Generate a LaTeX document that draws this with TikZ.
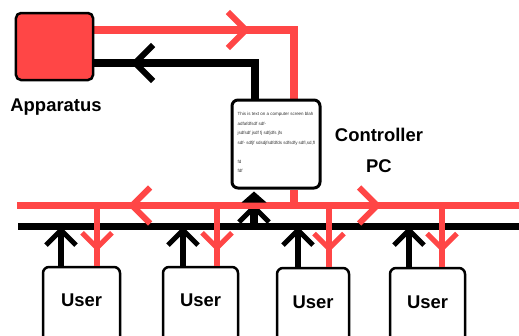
\documentclass[tikz,border=0pt]{standalone}
\usepackage{fontspec}
\setmainfont{Liberation Sans}
\usetikzlibrary{positioning,arrows.meta,decorations.markings}

\definecolor{sigred}{RGB}{255,70,70}

\tikzset{
  barb/.tip={Straight Barb[length=15bp,width=30bp,line width=5bp]},
  bigbarb/.tip={Straight Barb[length=18bp,width=36bp,line width=6bp]},
  chevron at/.style={postaction={decorate},
    decoration={markings,mark=at position #1 with {\arrow{barb}}}},
  big chevron at/.style={postaction={decorate},
    decoration={markings,mark=at position #1 with {\arrow{bigbarb}}}},
  redline/.style={draw=sigred,line width=7.5bp},
  blackline/.style={draw=black,line width=7.5bp},
  userred/.style={draw=sigred,line width=5.5bp},
  userblack/.style={draw=black,line width=6bp},
  appbox/.style={draw=black,line width=2.5bp,fill=sigred,rounded corners=5bp,
    minimum width=77bp,minimum height=67bp},
  ctrlbox/.style={draw=black,line width=3bp,fill=white,rounded corners=6bp,
    minimum width=88bp,minimum height=88bp},
  userbox/.style={draw=black,line width=2.5bp,fill=white,rounded corners=6bp,
    minimum height=90bp},
  bigtext/.style={font=\fontsize{18.5}{31}\selectfont\bfseries},
  screentext/.style={font=\fontsize{4.5}{9.5}\selectfont,text=black!80,
    align=left,inner sep=0pt},
}

\begin{document}
\begin{tikzpicture}[x=1bp,y=-1bp,>=latex]
\useasboundingbox (0,0) rectangle (519,335);
\clip (0,0) rectangle (519,335);
%% ends of the apparatus link
\coordinate (appe) at (93,46.5);
\coordinate (ctrln) at (276,100);
\draw [redline,big chevron at=0.58] ([yshift=16.5bp]appe) -| ([xshift=18bp]ctrln);
\draw [blackline,big chevron at=0.81] ([xshift=-21bp]ctrln) |- ([yshift=-16.5bp]appe);
%% boxes
\node (app) at (54.5,46.5) [appbox] {};
\node (ctrl) at (276,144) [ctrlbox] {};
\node (scr) at (237.5,112.5) [screentext,anchor=north west] {This is text on a computer screen blah\\
  adfafdfsdf sdf-\\jsdfsdf jsdf fj sdfjdfs jfs\\sdf- sdfjf sdsdjfsdfdfds sdfsdfy sdfl,sd,fl\\[9.5bp]fd\\fdf};
\node (u1) at (81.5,312) [userbox,minimum width=77bp,label={[bigtext,yshift=12bp]center:User}] {};
\node (u2) at (200.5,312) [userbox,minimum width=75bp,label={[bigtext,yshift=12bp]center:User}] {};
\node (u3) at (313,313) [userbox,minimum width=72bp,label={[bigtext,yshift=11bp]center:User}] {};
\node (u4) at (427.5,313) [userbox,minimum width=75bp,label={[bigtext,yshift=11bp]center:User}] {};
\node (applabel) at (56,107) [bigtext] {Apparatus};
\node (ctrllabel) at (379,150.5) [bigtext,align=center] {Controller\\PC};
%% bus ends and taps
\coordinate (rbw) at (17,205.5);
\coordinate (rbe) at (530,205.5);
\coordinate (bbw) at (18,226.5);
\coordinate (bbe) at (530,226.5);
\coordinate (rj) at ([xshift=18bp]ctrl.south);
\coordinate (stand) at ([xshift=-22bp]ctrl.south);
%% buses
\draw [blackline] (bbw) -- (bbe);
\draw [blackline,-{barb}] (stand |- bbw) -- ([yshift=-14bp]stand);
\draw [redline] (rj) -- (rj |- rbw);
\draw [redline,big chevron at=0.60] (rj |- rbw) -- (rbw);
\draw [redline,big chevron at=0.37] (rj |- rbw) -- (rbe);
\fill [black] ([yshift=-2bp]stand) -- ++(-12.5,11) -- ++(25,0) -- cycle;
%% user taps
\draw [userblack,-{barb}] ([xshift=-20.5bp]u1.north) -- ([xshift=-20.5bp]u1.north |- bbw);
\draw [userred,chevron at=0.76] ([xshift=15.5bp]u1.north |- rbw) -- ([xshift=15.5bp]u1.north);
\draw [userblack,-{barb}] ([xshift=-17.5bp]u2.north) -- ([xshift=-17.5bp]u2.north |- bbw);
\draw [userred,chevron at=0.76] ([xshift=16.5bp]u2.north |- rbw) -- ([xshift=16.5bp]u2.north);
\draw [userblack,-{barb}] ([xshift=-15bp]u3.north) -- ([xshift=-15bp]u3.north |- bbw);
\draw [userred,chevron at=0.76] ([xshift=16bp]u3.north |- rbw) -- ([xshift=16bp]u3.north);
\draw [userblack,-{barb}] ([xshift=-18.5bp]u4.north) -- ([xshift=-18.5bp]u4.north |- bbw);
\draw [userred,chevron at=0.76] ([xshift=14.5bp]u4.north |- rbw) -- ([xshift=14.5bp]u4.north);
%
\end{tikzpicture}
\end{document}
